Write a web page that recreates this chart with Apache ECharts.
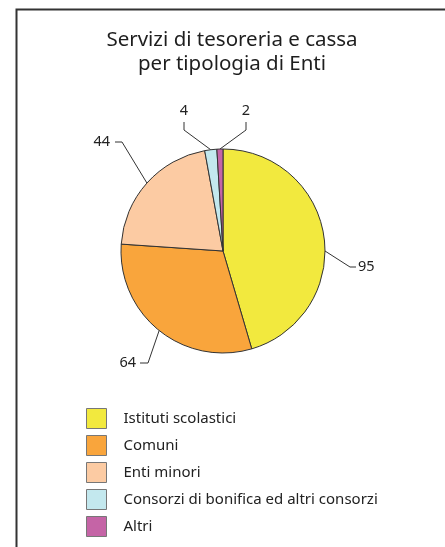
<!DOCTYPE html>
<html>
<head>
<meta charset="utf-8">
<script src="https://cdn.jsdelivr.net/npm/echarts@6/dist/echarts.min.js"></script>
<style>
  html, body { margin: 0; padding: 0; background: #fff; }
  #chart { width: 445px; height: 547px; }
</style>
</head>
<body>
<div id="chart"></div>
<script>
// Servizi di tesoreria e cassa, per tipologia di Enti
const categories = [
  'Istituti scolastici',
  'Comuni',
  'Enti minori',
  'Consorzi di bonifica ed altri consorzi',
  'Altri'
];
const counts = [95, 64, 44, 4, 2];
const sliceColors = ['#f2e93e', '#f9a53c', '#fccba3', '#c3e8ee', '#c564a6'];
const titleLines = ['Servizi di tesoreria e cassa', 'per tipologia di Enti'];

const FONT = '"Noto Sans", sans-serif';
const CX = 223, CY = 251, R = 102;

// Label placement around the pie, as offsets from the pie centre:
// bend point of the leader line, its end point, text anchor and alignment.
const labelGeom = [
  { bend: [127, 16],    end: [133, 16],    text: [135, 16],    align: 'left',   startAtRight: true },
  { bend: [-75, 112],   end: [-83, 112],   text: [-87, 112],   align: 'right' },
  { bend: [-101, -109], end: [-108, -109], text: [-113, -109], align: 'right' },
  { bend: [-39, -121],  end: [-39, -129],  text: [-39, -140],  align: 'center' },
  { bend: [23, -121],   end: [23, -129],   text: [23, -140],   align: 'center' }
];

const chart = echarts.init(document.getElementById('chart'), null, { renderer: 'canvas' });

chart.setOption({
  animation: false,
  backgroundColor: '#ffffff',
  color: sliceColors,
  legend: {
    orient: 'vertical',
    left: 86,
    top: 408,
    height: 200,
    padding: 0,
    itemWidth: 20,
    itemHeight: 20,
    itemGap: 6,
    icon: 'rect',
    selectedMode: false,
    itemStyle: { borderColor: '#777', borderWidth: 1 },
    textStyle: {
      fontFamily: FONT,
      fontSize: 15,
      color: '#222',
      padding: [0, 0, 0, 12]
    },
    data: categories
  },
  graphic: [
    {
      type: 'polyline',
      silent: true,
      shape: { points: [[16.5, 547], [16.5, 9.5], [445, 9.5]] },
      style: { stroke: '#333', lineWidth: 2, fill: null }
    },
    {
      type: 'text',
      silent: true,
      x: 232,
      y: 28,
      style: {
        text: titleLines.join('\n'),
        fontFamily: FONT,
        fontSize: 20.5,
        lineHeight: 24,
        fill: '#1e1e1e',
        align: 'center',
        verticalAlign: 'top'
      }
    }
  ],
  series: [
    {
      type: 'pie',
      center: [CX, CY],
      radius: R,
      startAngle: 90,
      clockwise: true,
      itemStyle: { borderColor: '#333', borderWidth: 1 },
      label: {
        show: true,
        position: 'outside',
        formatter: '{c}',
        fontFamily: FONT,
        fontSize: 14.5,
        color: '#222'
      },
      labelLine: {
        show: true,
        length: 20,
        length2: 10,
        lineStyle: { color: '#333', width: 1 }
      },
      labelLayout: function (params) {
        const g = labelGeom[params.dataIndex];
        const p0 = g.startAtRight ? [CX + R, CY] : params.labelLinePoints[0];
        return {
          x: CX + g.text[0],
          y: CY + g.text[1],
          align: g.align,
          verticalAlign: 'middle',
          labelLinePoints: [
            p0,
            [CX + g.bend[0], CY + g.bend[1]],
            [CX + g.end[0], CY + g.end[1]]
          ]
        };
      },
      emphasis: { disabled: true },
      data: categories.map((name, i) => ({ name: name, value: counts[i] }))
    }
  ]
});
</script>
</body>
</html>
